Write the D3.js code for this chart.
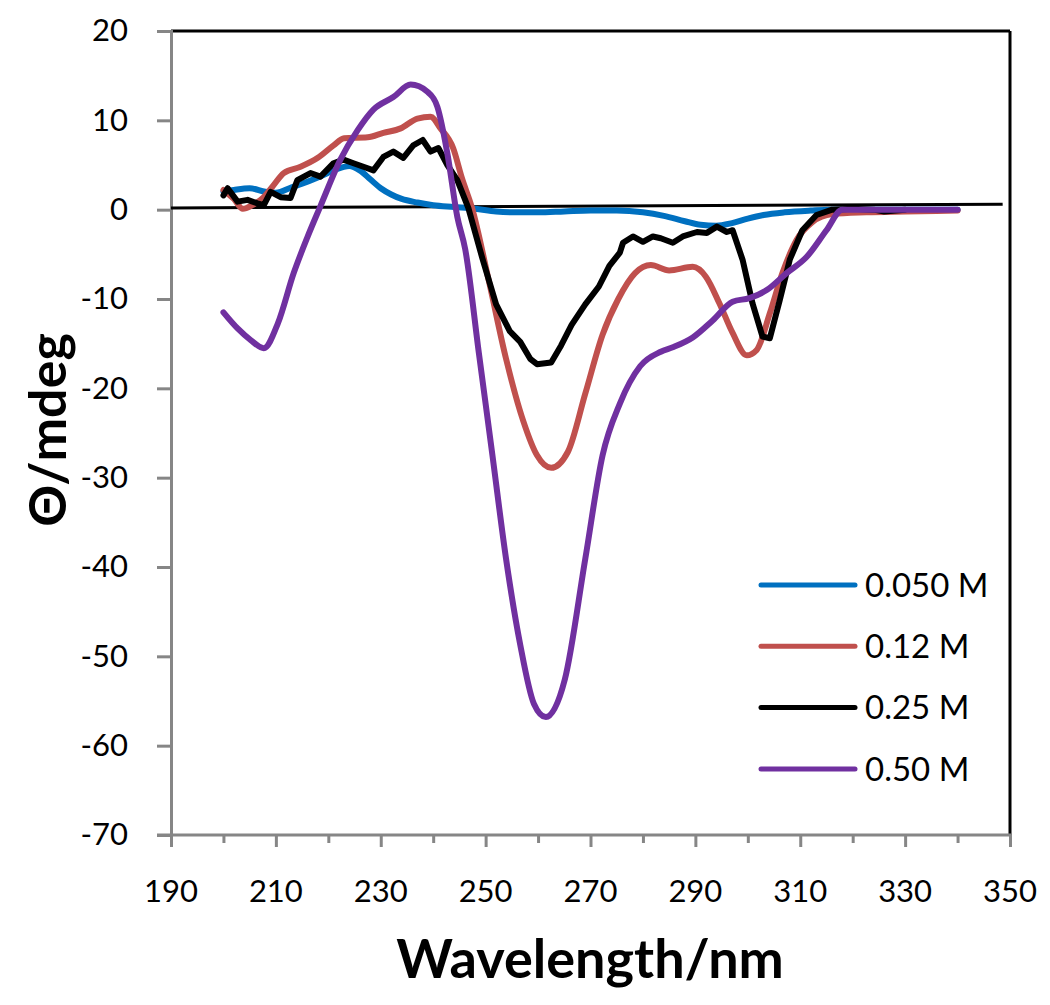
<!DOCTYPE html>
<html>
<head>
<meta charset="utf-8">
<script src="https://cdn.jsdelivr.net/npm/d3@7"></script>
<style>
  html, body { margin: 0; padding: 0; background: #fff; }
  svg { display: block; }
</style>
</head>
<body>
<svg id="chart" width="1050" height="1005"></svg>
<script>
// ---- Data ----
const seriesNames = ["0.050 M", "0.12 M", "0.25 M", "0.50 M"];
const seriesColors = ["#0070C0", "#C0504D", "#000000", "#7030A0"];

const blue = [[200,2.0],[202,2.2],[205,2.4],[208,2.0],[210,1.9],[213,2.5],[215,2.9],[218,3.6],[221,4.4],[224,4.9],[226,4.4],[228,3.4],[230,2.4],[232,1.7],[234,1.2],[237,0.8],[240,0.5],[244,0.3],[248,0.1],[252,-0.2],[256,-0.3],[260,-0.3],[265,-0.2],[270,-0.1],[275,-0.1],[280,-0.3],[284,-0.7],[288,-1.3],[291,-1.7],[294,-1.8],[297,-1.5],[300,-1.0],[303,-0.6],[307,-0.3],[312,-0.1],[316,0],[320,0],[330,0],[340,0]];

const red = [[200,2.2],[202,1.2],[203.7,0.1],[205.5,0.5],[207.7,1.4],[209.5,2.7],[211.5,4.1],[214.7,4.8],[218,5.8],[221,7.2],[223,8.0],[227.5,8.1],[230.5,8.6],[233.8,9.1],[237,10.2],[239.5,10.4],[241.4,9.1],[243.8,6.9],[245.5,3.5],[247.4,0.2],[250.7,-8.2],[253.9,-16.7],[257.2,-23.7],[259.8,-27.5],[262.5,-28.9],[265.7,-27.1],[269,-20.6],[272.3,-14.0],[275.3,-10.0],[278.5,-7.1],[281.5,-6.2],[285,-6.8],[289.5,-6.4],[292,-7.5],[294.6,-10.5],[297.1,-13.8],[299.8,-16.3],[301.7,-15.7],[304.2,-11.6],[306.6,-7.1],[309.3,-3.4],[312.3,-1.4],[316.1,-0.5],[322.6,-0.3],[330,-0.2],[340,-0.1]];

const black = [[200,1.6],[200.8,2.4],[202.7,0.9],[204.6,1.1],[206.5,0.7],[207.7,0.5],[209,2.0],[210.9,1.4],[212.8,1.3],[214.1,3.3],[216.6,4.1],[218.5,3.7],[221,5.2],[222.9,5.6],[224.8,5.2],[226.7,4.8],[228.6,4.4],[230.5,5.9],[232.4,6.5],[234.3,5.8],[236.2,7.2],[238,7.8],[239.5,6.5],[241,6.9],[242.7,5.0],[244.6,3.3],[246.7,0.2],[249.4,-5.5],[252,-10.6],[254.6,-13.6],[256.6,-14.8],[258.5,-16.7],[259.8,-17.3],[262.5,-17.1],[264.4,-15.2],[266.4,-12.9],[269,-10.6],[271.6,-8.6],[273.6,-6.3],[275.6,-4.8],[276.2,-3.7],[278.1,-3.0],[280,-3.6],[281.9,-3.0],[283.4,-3.2],[285.7,-3.7],[287.6,-3.0],[290.3,-2.5],[292.2,-2.6],[294.1,-1.9],[296,-2.5],[297.1,-2.3],[299,-5.6],[300.9,-10.5],[302.8,-14.2],[304.2,-14.4],[306.1,-10.1],[308,-5.6],[310.4,-2.3],[313.1,-0.6],[316.1,0],[320,0.1],[324,0],[326,-0.2],[330,0]];

const purple = [[200,-11.5],[202.7,-13.3],[205.2,-14.6],[207.7,-15.5],[210.4,-12.7],[213.4,-7.1],[216,-3.1],[218.5,0.4],[222.3,5.6],[225.6,8.9],[228.6,11.2],[232.4,12.6],[235.7,14.0],[238.9,13.2],[240.8,11.5],[242.7,6.3],[244.6,-0.8],[246.1,-4.4],[248.7,-16.0],[251.3,-27.5],[253.9,-39.1],[256.6,-48.7],[259.2,-55.3],[261.5,-56.8],[265.1,-52.6],[269,-39.1],[272.3,-27.5],[275.6,-21.7],[279.5,-17.5],[283.4,-15.9],[285.7,-15.4],[289.5,-14.3],[293.3,-12.4],[297.1,-10.3],[300.3,-9.9],[303.6,-9.0],[307.4,-7.1],[311.2,-5.3],[315,-2.3],[318,0],[320,0],[330,0],[340,0]];

const seriesData = [blue, red, black, purple];
const refLine = [[190,0.2],[348.6,0.6]];

const xTicks = [190,200,210,220,230,240,250,260,270,280,290,300,310,320,330,340,350];
const xLabels = [190,210,230,250,270,290,310,330,350];
const yTicks = [20,10,0,-10,-20,-30,-40,-50,-60,-70];

// ---- Layout ----
const svg = d3.select("#chart");
const L = 171, R = 1010, T = 31, B = 835;
const x = d3.scaleLinear().domain([190,350]).range([L,R]);
const y = d3.scaleLinear().domain([-70,20]).range([B,T]);
const font = "Lato, 'Open Sans', sans-serif";
const grey = "#868686";

// frame (top, right) in black
svg.append("line").attr("x1",L).attr("x2",R).attr("y1",T).attr("y2",T)
  .attr("stroke","#000").attr("stroke-width",3);
svg.append("line").attr("x1",R).attr("x2",R).attr("y1",T).attr("y2",B)
  .attr("stroke","#000").attr("stroke-width",3);

// y axis
const yAxis = d3.axisLeft(y).tickValues(yTicks).tickSize(14).tickPadding(29).tickFormat(d3.format("d"));
const gy = svg.append("g").attr("transform",`translate(${L},0)`).call(yAxis);
gy.select(".domain").attr("stroke",grey).attr("stroke-width",3);
gy.selectAll(".tick line").attr("stroke",grey).attr("stroke-width",3);
gy.selectAll(".tick text").attr("font-family",font).attr("font-size",31).attr("fill","#000")
  .text(d => d < 0 ? "-" + Math.abs(d) : d);

// x axis
const xAxis = d3.axisBottom(x).tickValues(xTicks).tickSize(0).tickFormat("");
const gx = svg.append("g").attr("transform",`translate(0,${B})`).call(xAxis);
gx.select(".domain").remove();
svg.append("line").attr("x1",L-14).attr("x2",R+1).attr("y1",B).attr("y2",B)
  .attr("stroke",grey).attr("stroke-width",3);
gx.selectAll(".tick line").attr("y2", d => xLabels.includes(d) ? 12 : 8)
  .attr("stroke",grey).attr("stroke-width",3);
svg.append("g").selectAll("text").data(xLabels).join("text")
  .attr("x", d => x(d)).attr("y", 902)
  .attr("text-anchor","middle").attr("font-family",font).attr("font-size",31)
  .text(d => d);

// zero reference line
svg.append("line")
  .attr("x1", x(refLine[0][0])).attr("y1", y(refLine[0][1]))
  .attr("x2", x(refLine[1][0])).attr("y2", y(refLine[1][1]))
  .attr("stroke","#000").attr("stroke-width",3);

// series
const smooth = d3.line().x(d => x(d[0])).y(d => y(d[1])).curve(d3.curveMonotoneX);
const rough = d3.line().x(d => x(d[0])).y(d => y(d[1])).curve(d3.curveLinear);
seriesData.forEach((data, i) => {
  svg.append("path").datum(data)
    .attr("d", i === 2 ? rough : smooth)
    .attr("fill","none").attr("stroke",seriesColors[i])
    .attr("stroke-width",6).attr("stroke-linejoin","round").attr("stroke-linecap","round");
});

// legend
const lg = svg.append("g");
seriesNames.forEach((name, i) => {
  const ly = 585 + i * 61.3;
  lg.append("line").attr("x1",761).attr("x2",855).attr("y1",ly).attr("y2",ly)
    .attr("stroke",seriesColors[i]).attr("stroke-width",5).attr("stroke-linecap","round");
  lg.append("text").attr("x",865).attr("y",ly).attr("dy","0.36em")
    .attr("font-family",font).attr("font-size",33).text(name);
});

// axis titles
svg.append("text").attr("transform","translate(66,430) rotate(-90)")
  .attr("text-anchor","middle").attr("font-family",font).attr("font-weight","bold")
  .attr("font-size",52).text("Θ/mdeg");
svg.append("text").attr("x",590).attr("y",978)
  .attr("text-anchor","middle").attr("font-family",font).attr("font-weight","bold")
  .attr("font-size",54).text("Wavelength/nm");
</script>
</body>
</html>
